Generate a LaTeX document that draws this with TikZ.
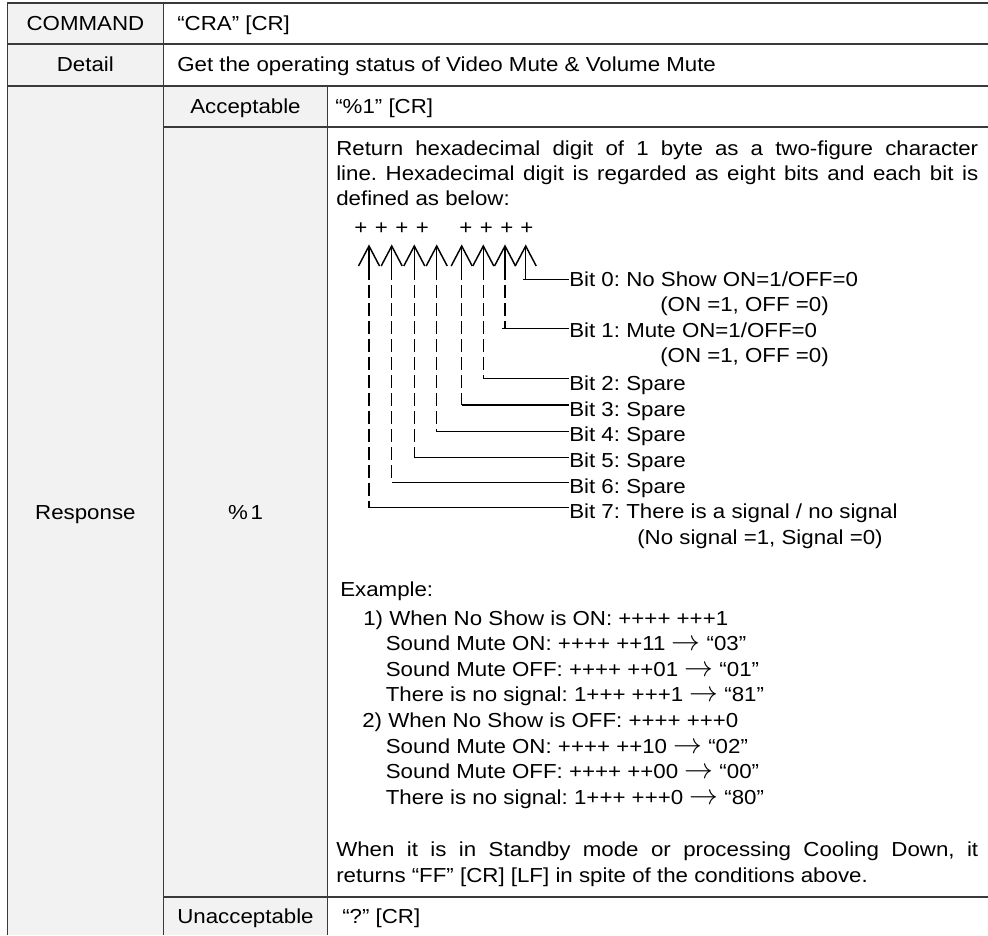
\documentclass[tikz,border=0pt]{standalone}
\usepackage{fontspec}
\setmainfont{Liberation Sans}[FakeStretch=1.1]
\newcommand{\fs}{\fontsize{15.2pt}{19pt}\selectfont\frenchspacing}
\newcommand{\ar}{\scalebox{1.5}{$\rightarrow$}}
\definecolor{cellgray}{HTML}{F2F2F2}
\definecolor{rule}{HTML}{3A3A3A}
\begin{document}
\begin{tikzpicture}[x=0.75pt,y=-0.75pt,
  txt/.style={inner sep=0pt, anchor=base west, font=\fs},
  ctxt/.style={inner sep=0pt, anchor=base, font=\fs},
  gridline/.style={draw=rule, line width=1pt},
  conn/.style={line width=1.1pt, black},
  dsh/.style={line width=1.1pt, black, dash pattern=on 10pt off 3.5pt}]
\useasboundingbox (0,0) rectangle (988,935);
\fill[white] (0,0) rectangle (988,935);
% cell fills
\fill[cellgray] (7.5,3) rectangle (163.3,935);
\fill[cellgray] (163.3,86) rectangle (327.7,935);
% table rules
\draw[gridline] (988,3) -- (7.5,3) -- (7.5,935);
\draw[gridline] (7.5,44) -- (988,44);
\draw[gridline] (7.5,86) -- (988,86);
\draw[gridline] (163.3,3) -- (163.3,935);
\draw[gridline] (163.3,127) -- (988,127);
\draw[gridline] (163.3,897) -- (988,897);
\draw[gridline] (327.7,86) -- (327.7,935);
% header cells
\node[ctxt] (cmd) at (85.4,30) {COMMAND};
\node[txt] (cmdv) at (177,30) {“CRA” [CR]};
\node[ctxt] (det) at (85.4,71.7) {Detail};
\node[txt] (detv) at (177,71.7) {Get the operating status of Video Mute \& Volume Mute};
\node[ctxt] (resp) at (85.4,519) {Response};
\node[ctxt] (acc) at (245.5,113) {Acceptable};
\node[txt] (accv) at (335,113) {“\%1” [CR]};
\node[ctxt] (pct) at (245.5,519) {\%\hspace{2pt}1};
\node[ctxt] (unacc) at (245.5,923) {Unacceptable};
\node[txt] (unaccv) at (342,923) {“?” [CR]};
% description
\node[txt] (r1) at (336,155) {\hbox to 481.5pt{Return hexadecimal digit of 1 byte as a two-figure character}};
\node[txt] (r2) at (336,180) {\hbox to 481.5pt{line. Hexadecimal digit is regarded as eight bits and each bit is}};
\node[txt] (r3) at (336,205) {defined as below:};
% plus signs
\foreach \x [count=\k] in {361,381.5,402,422.5,466,486.5,507,527}{
  \node[ctxt] (p\k) at (\x,234) {+};
}
% bit diagram
\foreach \i/\x/\y/\o in {0/525.7/279.3/3, 1/505/328.3/3, 2/483.3/378.3/0, 3/461.7/405/0,
                         4/436.7/431.7/0, 5/414.3/457.3/0, 6/391.7/482.3/0, 7/369/507.7/0}{
  \coordinate (t\i) at (\x,246);
  \coordinate (c\i) at (\x,\y);
  \coordinate (s\i) at (\x-\o,\y);
  \draw[conn] (t\i) ++(-10.5,20) -- (t\i) -- ++(10.5,20);
  \draw[conn] (t\i) -- ++(0,21) coordinate (m\i);
  \draw[dsh] (m\i) -- (c\i);
}
\node[txt] (b0) at (569,286.5) {Bit 0: No Show ON=1/OFF=0};
\node[txt] (b0x) at (660,311.8) {(ON =1, OFF =0)};
\node[txt] (b1) at (569,337.2) {Bit 1: Mute ON=1/OFF=0};
\node[txt] (b1x) at (660,362.6) {(ON =1, OFF =0)};
\node[txt] (b2) at (569,390.5) {Bit 2: Spare};
\node[txt] (b3) at (569,416) {Bit 3: Spare};
\node[txt] (b4) at (569,441.6) {Bit 4: Spare};
\node[txt] (b5) at (569,467.3) {Bit 5: Spare};
\node[txt] (b6) at (569,493) {Bit 6: Spare};
\node[txt] (b7) at (569,518.8) {Bit 7: There is a signal / no signal};
\node[txt] (b7x) at (637,544.5) {(No signal =1, Signal =0)};
\foreach \i in {0,...,7}{
  \draw[conn] (s\i) -- (c\i -| b\i.west);
}
% examples
\node[txt] (ex) at (340,596.7) {Example:};
\node[txt] (e1) at (363,625) {1) When No Show is ON: ++++ +++1};
\node[txt] (e2) at (385.5,650.6) {Sound Mute ON: ++++ ++11 \ar{} “03”};
\node[txt] (e3) at (385.5,676.2) {Sound Mute OFF: ++++ ++01 \ar{} “01”};
\node[txt] (e4) at (385.5,701.8) {There is no signal: 1+++ +++1 \ar{} “81”};
\node[txt] (e5) at (362,727.4) {2) When No Show is OFF: ++++ +++0};
\node[txt] (e6) at (385.5,753) {Sound Mute ON: ++++ ++10 \ar{} “02”};
\node[txt] (e7) at (385.5,778.6) {Sound Mute OFF: ++++ ++00 \ar{} “00”};
\node[txt] (e8) at (385.5,804.2) {There is no signal: 1+++ +++0 \ar{} “80”};
% standby note
\node[txt] (w1) at (336,856.5) {\hbox to 481.5pt{When it is in Standby mode or processing Cooling Down, it}};
\node[txt] (w2) at (336,882) {returns “FF” [CR] [LF] in spite of the conditions above.};
\end{tikzpicture}
\end{document}
